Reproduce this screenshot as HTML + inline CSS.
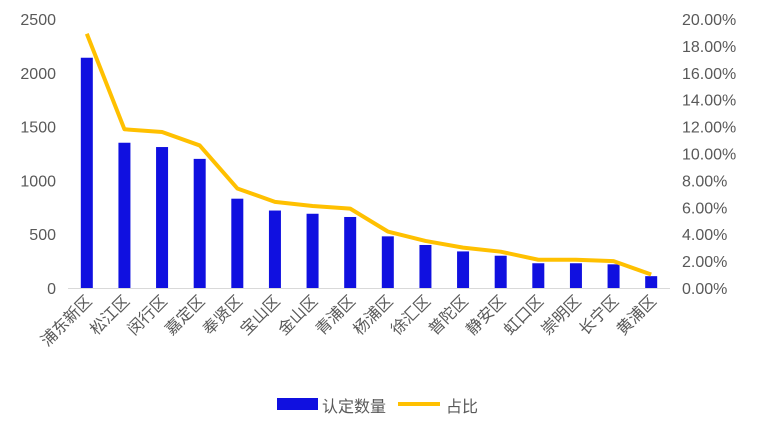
<!DOCTYPE html>
<html><head><meta charset="utf-8"><style>
body{margin:0;background:#fff;}
svg{display:block;font-family:"Liberation Sans","Noto Sans CJK SC",sans-serif;}
</style></head><body>
<svg id="chart" width="760" height="432"></svg>
<script>
const categories=["浦东新区","松江区","闵行区","嘉定区","奉贤区","宝山区","金山区","青浦区","杨浦区","徐汇区","普陀区","静安区","虹口区","崇明区","长宁区","黄浦区"];
const counts=[2140,1350,1310,1200,830,720,690,660,480,400,340,300,230,230,220,110];
const shares=[18.9,11.8,11.6,10.6,7.4,6.4,6.1,5.9,4.2,3.5,3.0,2.7,2.1,2.1,2.0,1.0];
const leftTicks=[0,500,1000,1500,2000,2500];
const rightTicks=[0,2,4,6,8,10,12,14,16,18,20];
const NS="http://www.w3.org/2000/svg";
const svg=document.getElementById('chart');
const x0=68,x1=670,yTop=19,yBot=288;
const band=(x1-x0)/categories.length;
const xc=i=>x0+band*(i+0.5);
const yL=v=>yBot-(v/2500)*(yBot-yTop);
const yR=v=>yBot-(v/20)*(yBot-yTop);
function mk(t,a,txt){const e=document.createElementNS(NS,t);for(const k in a)e.setAttribute(k,a[k]);if(txt!==undefined)e.textContent=txt;svg.appendChild(e);return e;}
leftTicks.forEach(v=>{const e=mk('text',{x:56,y:yL(v)+6,'text-anchor':'end','font-size':16,fill:'#595959'},v);

});
rightTicks.forEach(v=>{const e=mk('text',{x:682,y:yR(v)+6,'font-size':16,fill:'#595959'},v.toFixed(2)+'%');

});
const ax=mk('line',{x1:x0,x2:x1,y1:yBot+0.5,y2:yBot+0.5,stroke:'#d9d9d9','stroke-width':1});


counts.forEach((v,i)=>{const r=mk('rect',{x:xc(i)-6,y:yL(v),width:12,height:yBot-yL(v),fill:'#1010e0'});

});
const pl=mk('polyline',{points:shares.map((v,i)=>xc(i)+','+yR(v)).join(' '),fill:'none',stroke:'#ffc000','stroke-width':4,'stroke-linejoin':'round'});


categories.forEach((c,i)=>{const t=mk('text',{x:0,y:0,'text-anchor':'end','font-size':16,fill:'#595959',transform:`translate(${xc(i)+6},${yBot+14}) rotate(-45)`},c);

});
</script>
<svg width="760" height="1" style="display:none"></svg>
<div style="position:absolute;left:0;top:393px;width:760px;height:24px;font-family:'Liberation Sans','Noto Sans CJK SC',sans-serif;font-size:16px;color:#595959;">
 <div style="position:absolute;left:277px;top:0;">
  <span style="position:absolute;left:0;top:5px;width:41px;height:12px;background:#1010e0;"></span>
  <span style="position:absolute;left:45px;top:0;white-space:nowrap;">认定数量</span>
 </div>
 <div style="position:absolute;left:398px;top:0;">
  <span style="position:absolute;left:0;top:9px;width:42px;height:4px;background:#ffc000;"></span>
  <span style="position:absolute;left:48px;top:0;white-space:nowrap;">占比</span>
 </div>
</div>
<style>body{position:relative;width:760px;height:432px;overflow:hidden;}</style>
</body></html>
